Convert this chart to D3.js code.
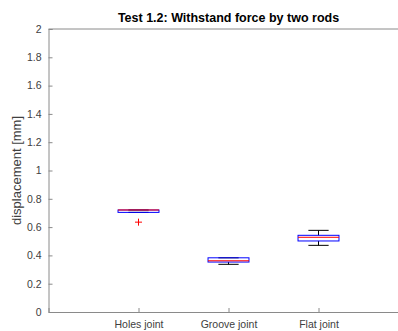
<!DOCTYPE html>
<html><head><meta charset="utf-8">
<script src="https://cdn.jsdelivr.net/npm/d3@7"></script>
<style>body{margin:0;background:#fff}svg{display:block}text{font-family:"Liberation Sans",Arial,sans-serif}</style>
</head><body><svg id="c" width="398" height="331"></svg>
<script>
const categories = ["Holes joint", "Groove joint", "Flat joint"];
const lowerWhisker = [0.704, 0.337, 0.471];
const q1 = [0.704, 0.353, 0.502];
const median = [0.721, 0.362, 0.528];
const q3 = [0.721, 0.383, 0.542];
const upperWhisker = [0.721, 0.383, 0.577];
const outliers = [[0.635], [], []];
const yTicks = [0, 0.2, 0.4, 0.6, 0.8, 1, 1.2, 1.4, 1.6, 1.8, 2];
const title = "Test 1.2: Withstand force by two rods";
const yLabel = "displacement [mm]";

const svg = d3.select("#c");
const x = d3.scaleLinear().domain([0, 4]).range([48.5, 408.5]);
const y = d3.scaleLinear().domain([0, 2]).range([312, 29]);
const axisColor = "#8a8a8a", textColor = "#404040";
const bw = 0.455, cw = 0.225;

svg.append("line").attr("x1", x(0)).attr("x2", x(4)).attr("y1", y(2)).attr("y2", y(2)).attr("stroke", axisColor);
const yAxis = svg.append("g").attr("transform", `translate(${x(0)},0)`)
  .call(d3.axisLeft(y).tickValues(yTicks).tickSize(-4).tickPadding(7).tickFormat(d => d3.format("~g")(d)));
const xAxis = svg.append("g").attr("transform", `translate(0,${y(0)})`)
  .call(d3.axisBottom(x).tickValues([1, 2, 3]).tickSize(-4).tickPadding(9).tickFormat((d, i) => categories[i]));
[yAxis, xAxis].forEach(g => {
  g.select(".domain").attr("stroke", axisColor);
  g.selectAll(".tick line").attr("stroke", axisColor);
  g.selectAll("text").attr("fill", textColor).style("font-size", "10.5px").attr("font-family", null);
});

const g = svg.append("g");
categories.forEach((c, i) => {
  const cx = x(i + 1);
  const half = (x(bw / 2) - x(0));
  const ch = (x(cw / 2) - x(0));
  g.append("line").attr("x1", cx).attr("x2", cx).attr("y1", y(q3[i])).attr("y2", y(upperWhisker[i])).attr("stroke", "#000");
  g.append("line").attr("x1", cx).attr("x2", cx).attr("y1", y(q1[i])).attr("y2", y(lowerWhisker[i])).attr("stroke", "#000");
  g.append("line").attr("x1", cx - ch).attr("x2", cx + ch).attr("y1", y(upperWhisker[i])).attr("y2", y(upperWhisker[i])).attr("stroke", "#000");
  g.append("line").attr("x1", cx - ch).attr("x2", cx + ch).attr("y1", y(lowerWhisker[i])).attr("y2", y(lowerWhisker[i])).attr("stroke", "#000");
  g.append("rect").attr("x", cx - half).attr("width", 2 * half)
    .attr("y", y(q3[i])).attr("height", Math.max(0.5, y(q1[i]) - y(q3[i])))
    .attr("fill", "none").attr("stroke", "#0000ff");
  g.append("line").attr("x1", cx - half).attr("x2", cx + half).attr("y1", y(median[i])).attr("y2", y(median[i])).attr("stroke", "#ff0000");
  outliers[i].forEach(v => {
    g.append("path").attr("d", `M${cx - 3.5},${y(v)}H${cx + 3.5}M${cx},${y(v) - 3.5}V${y(v) + 3.5}`).attr("stroke", "#ff0000").attr("fill", "none");
  });
});

svg.append("text").attr("x", (x(0) + x(4)) / 2).attr("y", 22).attr("text-anchor", "middle")
  .style("font-size", "12.5px").style("font-weight", "bold").attr("fill", "#000").text(title);
svg.append("text").attr("transform", `translate(21,${(y(0) + y(2)) / 2}) rotate(-90)`).attr("text-anchor", "middle")
  .style("font-size", "13px").attr("fill", textColor).text(yLabel);
</script></body></html>
